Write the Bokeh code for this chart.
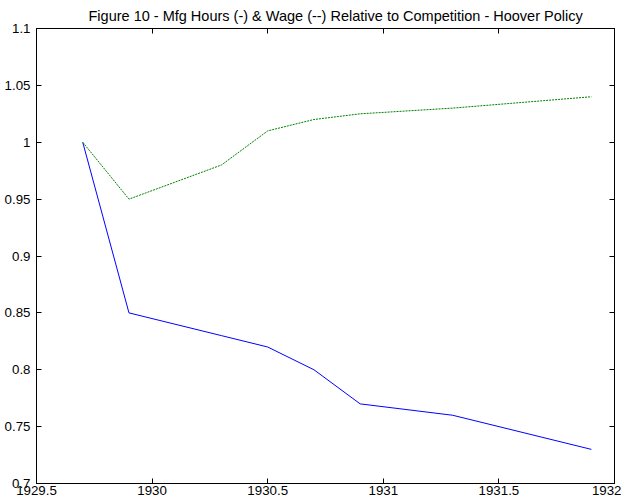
from bokeh.plotting import figure
from bokeh.models import Range1d, LinearAxis, FixedTicker, PrintfTickFormatter, Title, CustomLabelingPolicy
from bokeh.embed import file_html
from bokeh.resources import INLINE

# data
years = [1929.7, 1929.9, 1930.3, 1930.5, 1930.7, 1930.9, 1931.3, 1931.9]
hours = [1.0, 0.85, 0.83, 0.82, 0.80, 0.77, 0.76, 0.73]
wage = [1.0, 0.95, 0.98, 1.01, 1.02, 1.025, 1.03, 1.04]
x_ticks = [1929.5, 1930, 1930.5, 1931, 1931.5, 1932]
y_ticks = [0.7, 0.75, 0.8, 0.85, 0.9, 0.95, 1.0, 1.05, 1.1]
title_text = "Figure 10 - Mfg Hours (-) & Wage (--) Relative to Competition - Hoover Policy"

FONT = "Liberation Sans"

p = figure(width=621, height=500, output_backend="svg", toolbar_location=None,
           x_range=Range1d(1929.5, 1932), y_range=Range1d(0.7, 1.1),
           min_border_left=36, min_border_right=7, min_border_top=28, min_border_bottom=17,
           x_axis_location=None, y_axis_location=None)
p.title = None

p.grid.visible = False
p.outline_line_color = "black"
p.outline_line_width = 1
p.background_fill_color = "white"
p.border_fill_color = "white"

hide_all = CustomLabelingPolicy(code="for (const i of indices) { indices.unset(i) } return indices")

def mk_axis(ticks, labels=True, standoff=2):
    ax = LinearAxis()
    ax.ticker = FixedTicker(ticks=ticks)
    ax.axis_line_color = "black"
    ax.major_tick_in = 5
    ax.major_tick_out = 0
    ax.minor_tick_in = 0
    ax.minor_tick_out = 0
    ax.major_tick_line_color = "black"
    ax.major_label_text_font = FONT
    ax.major_label_text_font_size = "13.3px"
    ax.major_label_text_color = "black"
    ax.major_label_standoff = standoff
    ax.formatter = PrintfTickFormatter(format="%g")
    if not labels:
        ax.major_label_policy = hide_all
        ax.major_label_standoff = 0
        ax.major_label_text_font_size = "0px"
    return ax

p.add_layout(mk_axis(x_ticks, True, 2), "below")
p.add_layout(mk_axis(y_ticks, True, 6), "left")
p.add_layout(mk_axis(y_ticks, False), "right")
p.add_layout(mk_axis(x_ticks, False), "above")
p.add_layout(Title(text=title_text, align="left", text_font=FONT, text_font_size="14.5px",
                   text_font_style="normal", text_color="black", offset=52, standoff=9), "above")

p.line(years, hours, line_color="#0000ff", line_width=1)
p.line(years, wage, line_color="#008000", line_width=1, line_dash="2 1")

open("out.html", "w").write(file_html(p, INLINE))
